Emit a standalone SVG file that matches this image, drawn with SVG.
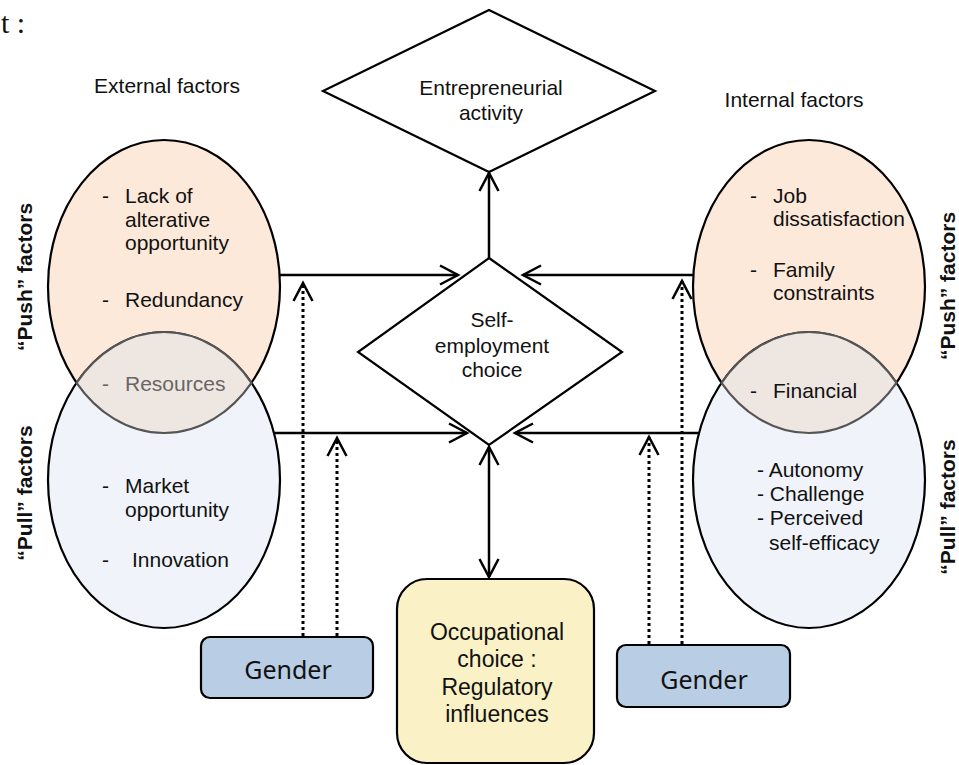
<svg xmlns="http://www.w3.org/2000/svg" width="959" height="765" viewBox="0 0 959 765">
<defs>
<style>
.t{font-family:"Liberation Sans",Arial,sans-serif;font-size:21px;fill:#111}
.c{text-anchor:middle}
.b{font-weight:bold}
.g{fill:#666}
.ln{stroke:#000;stroke-width:2.5;fill:none}
.dot{stroke:#000;stroke-width:3;stroke-dasharray:3 3;fill:none}
.sh{stroke:#000;stroke-width:2.2}
.gen{font-family:"Noto Sans","Open Sans",sans-serif;font-size:25px;fill:#111;text-anchor:middle}
.oc{font-size:23px}
</style>
<marker id="ah" markerUnits="userSpaceOnUse" markerWidth="24" markerHeight="24" viewBox="0 0 24 24" refX="21" refY="12" orient="auto-start-reverse">
<path d="M3,2.5 L21,12 L3,21.5" fill="none" stroke="#000" stroke-width="2.5"/>
</marker>
</defs>
<rect width="959" height="765" fill="#fff"/>
<text x="1" y="33" style="font-family:'Liberation Serif','Times New Roman',serif;font-size:30px;fill:#111">t :</text>
<text class="t" x="167" y="93" text-anchor="middle">External factors</text>
<text class="t" x="794" y="107" text-anchor="middle">Internal factors</text>

<g id="ext-push">
<ellipse cx="164" cy="286.5" rx="116" ry="146.5" fill="#FDE9DA" class="sh"/>
<text class="t" x="102" y="203">-</text>
<text class="t" x="125" y="203">Lack of</text>
<text class="t" x="125" y="227">alterative</text>
<text class="t" x="125" y="250">opportunity</text>
<text class="t" x="102" y="307">-</text>
<text class="t" x="125" y="307">Redundancy</text>
</g>
<g id="ext-pull">
<ellipse cx="164" cy="480" rx="116" ry="148" fill="#F0F3F9" class="sh"/>
<text class="t" x="102" y="493">-</text>
<text class="t" x="125" y="493">Market</text>
<text class="t" x="125" y="517">opportunity</text>
<text class="t" x="102" y="567">-</text>
<text class="t" x="132" y="567">Innovation</text>
</g>
<g id="ext-overlap">
<path d="M76.55,382.76 A116,148 0 0 1 251.45,382.76 A116,146.5 0 0 1 76.55,382.76 Z" fill="#EEE6E1" stroke="#555" stroke-width="2.2"/>
<text class="t g" x="102" y="391">-</text>
<text class="t g" x="125" y="391">Resources</text>
</g>

<g id="int-push">
<ellipse cx="809" cy="286.5" rx="116" ry="146.5" fill="#FDE9DA" class="sh"/>
<text class="t" x="750" y="203">-</text>
<text class="t" x="773" y="203">Job</text>
<text class="t" x="773" y="226">dissatisfaction</text>
<text class="t" x="750" y="277">-</text>
<text class="t" x="773" y="277">Family</text>
<text class="t" x="773" y="300">constraints</text>
</g>
<g id="int-pull">
<ellipse cx="809" cy="480" rx="116" ry="148" fill="#F0F3F9" class="sh"/>
<text class="t" x="757" y="477">- Autonomy</text>
<text class="t" x="757" y="501">- Challenge</text>
<text class="t" x="757" y="525">- Perceived</text>
<text class="t" x="769" y="550">self-efficacy</text>
</g>
<g id="int-overlap">
<path d="M721.55,382.76 A116,148 0 0 1 896.45,382.76 A116,146.5 0 0 1 721.55,382.76 Z" fill="#EEE6E1" stroke="#555" stroke-width="2.2"/>
<text class="t" x="750" y="398">-</text>
<text class="t" x="773" y="398">Financial</text>
</g>

<g id="labels">
<text class="t b c" transform="translate(32,277) rotate(-90)">“Push” factors</text>
<text class="t b c" transform="translate(32,493) rotate(-90)">“Pull” factors</text>
<text class="t b c" transform="translate(955,286) rotate(-90)">“Push” factors</text>
<text class="t b c" transform="translate(955,507) rotate(-90)">“Pull” factors</text>
</g>

<g id="entrepreneurial">
<polygon points="489,10 655,91 489,172 323,91" fill="#fff" class="sh"/>
<text class="t c" x="491" y="95">Entrepreneurial</text>
<text class="t c" x="491" y="120">activity</text>
</g>
<g id="self-employment">
<polygon points="489,258 622,352 489,445 358,352" fill="#fff" class="sh"/>
<text class="t c" x="492" y="327">Self-</text>
<text class="t c" x="492" y="353">employment</text>
<text class="t c" x="492" y="377">choice</text>
</g>
<g id="occupational">
<rect x="397" y="579" width="197" height="184" rx="30" ry="30" fill="#FAF1C6" class="sh"/>
<text class="t c oc" x="497" y="640">Occupational</text>
<text class="t c oc" x="497" y="667">choice :</text>
<text class="t c oc" x="497" y="695">Regulatory</text>
<text class="t c oc" x="497" y="722">influences</text>
</g>
<g id="gender-left">
<rect x="201" y="637" width="172" height="61" rx="9" ry="9" fill="#B9CDE5" class="sh"/>
<text class="gen" x="288" y="679">Gender</text>
</g>
<g id="gender-right">
<rect x="617" y="645" width="173" height="62" rx="9" ry="9" fill="#B9CDE5" class="sh"/>
<text class="gen" x="704" y="689">Gender</text>
</g>

<g id="connectors">
<line class="ln" x1="489" y1="258" x2="489" y2="173" marker-end="url(#ah)"/>
<line class="ln" x1="280" y1="275" x2="458" y2="275" marker-end="url(#ah)"/>
<line class="ln" x1="274" y1="433" x2="467" y2="433" marker-end="url(#ah)"/>
<line class="ln" x1="693" y1="275" x2="523" y2="275" marker-end="url(#ah)"/>
<line class="ln" x1="699" y1="433" x2="515" y2="433" marker-end="url(#ah)"/>
<line class="ln" x1="489" y1="447" x2="489" y2="577" marker-start="url(#ah)" marker-end="url(#ah)"/>
<line class="dot" x1="303" y1="636" x2="303" y2="283" marker-end="url(#ah)"/>
<line class="dot" x1="337" y1="636" x2="337" y2="438" marker-end="url(#ah)"/>
<line class="dot" x1="649" y1="644" x2="649" y2="437" marker-end="url(#ah)"/>
<line class="dot" x1="682" y1="644" x2="682" y2="281" marker-end="url(#ah)"/>
</g>
</svg>
